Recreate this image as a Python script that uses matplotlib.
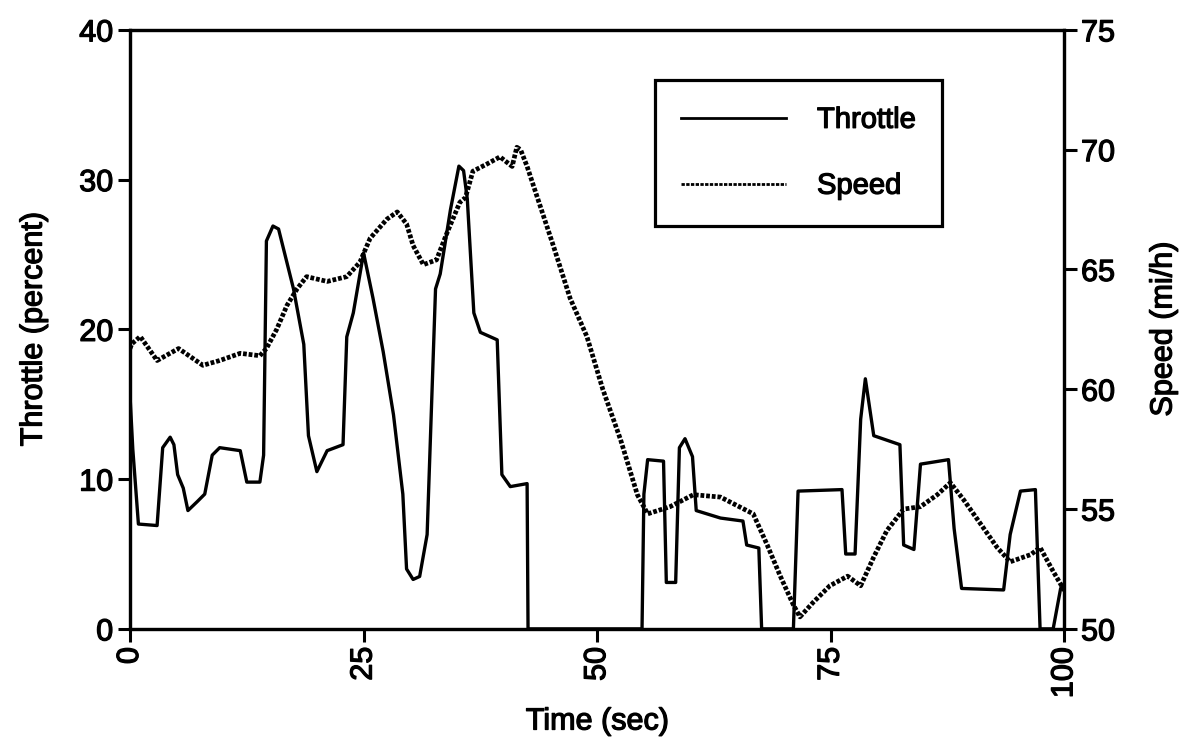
import matplotlib
matplotlib.use("Agg")
import matplotlib.pyplot as plt
import matplotlib.patheffects as pe
from matplotlib.lines import Line2D

plt.rcParams['font.family'] = ['Liberation Sans', 'DejaVu Sans']

# throttle trace (percent)
throttle_t = [0, 0.3, 0.9, 2.9, 3.5, 4.3, 4.7, 5.1, 5.7, 6.2, 7.2, 8.0, 8.8, 9.6, 11.8, 12.5,
              13.9, 14.3, 14.6, 15.3, 15.9, 17.5, 18.6, 19.1, 20.0, 21.1, 22.8, 23.2, 23.9,
              25.0, 26.0, 27.1, 28.2, 29.2, 29.6, 30.3, 31.0, 31.8, 32.7, 33.2, 34.3, 35.2,
              35.7, 36.1, 36.8, 37.5, 39.3, 39.8, 40.7, 42.5, 42.6, 54.8, 55.0, 55.4, 57.1,
              57.4, 58.4, 58.8, 59.4, 60.2, 60.6, 63.2, 65.6, 66.0, 67.3, 67.6, 71.0, 71.5,
              76.2, 76.6, 77.6, 78.2, 78.7, 79.6, 82.4, 82.8, 83.9, 84.6, 87.6, 88.2, 89.0,
              93.5, 94.2, 95.3, 96.9, 97.4, 98.8, 99.6, 100]
throttle = [15.6, 12.0, 7.0, 6.9, 12.1, 12.8, 12.3, 10.3, 9.4, 7.9, 8.5, 9.0, 11.6, 12.1, 11.9, 9.8,
            9.8, 11.6, 25.9, 26.9, 26.7, 22.7, 19.0, 12.9, 10.5, 11.9, 12.3, 19.5, 21.1,
            25.1, 22.1, 18.5, 14.3, 9.0, 4.0, 3.3, 3.5, 6.3, 22.7, 23.7, 28.0, 30.9,
            30.6, 28.7, 21.1, 19.8, 19.3, 10.3, 9.5, 9.7, 0, 0, 9.0, 11.3, 11.2,
            3.1, 3.1, 12.1, 12.7, 11.5, 7.9, 7.4, 7.2, 5.6, 5.4, 0, 0, 9.2,
            9.3, 5.0, 5.0, 14.0, 16.7, 12.9, 12.3, 5.6, 5.3, 11.0, 11.3, 6.7, 2.7,
            2.6, 6.3, 9.2, 9.3, 0, 0, 2.7, 3.0]

# vehicle speed trace (mi/h)
speed_t = [0, 0.2, 1.1, 2.9, 5.2, 7.8, 9.6, 11.8, 13.9, 14.6, 15.7, 16.8, 17.9, 18.9, 21.1,
           23.2, 24.6, 25.7, 27.5, 28.6, 29.6, 30.3, 31.4, 32.8, 33.9, 35.3, 35.9, 36.7,
           38.2, 39.6, 40.9, 41.4, 41.8, 42.5, 43.6, 45.3, 47.1, 48.9, 50.6, 52.5, 54.3,
           55.4, 57.8, 60.3, 63.2, 66.7, 68.2, 69.6, 71.0, 71.7, 73.1, 74.9, 76.8, 78.2,
           79.6, 81.0, 82.8, 84.6, 86.4, 87.8, 89.2, 91.0, 92.8, 94.2, 96.4, 97.4, 98.8, 100]
speed = [61.7, 61.9, 62.2, 61.2, 61.7, 61.0, 61.2, 61.5, 61.4, 61.7, 62.5, 63.5, 64.2, 64.7, 64.5,
         64.7, 65.3, 66.3, 67.1, 67.4, 66.9, 66.0, 65.2, 65.4, 66.5, 67.8, 68.0, 69.1,
         69.4, 69.7, 69.3, 70.1, 70.0, 69.3, 68.0, 66.0, 63.8, 62.2, 60.0, 57.9, 55.6,
         54.8, 55.1, 55.6, 55.5, 54.8, 53.5, 52.2, 51.0, 50.5, 51.1, 51.8, 52.2, 51.8,
         53.0, 54.1, 55.0, 55.1, 55.6, 56.1, 55.4, 54.4, 53.4, 52.8, 53.1, 53.4, 52.4, 51.6]

heavy = [pe.withStroke(linewidth=0.9, foreground='black')]

fig = plt.figure(figsize=(11.85, 7.46), dpi=100)
ax = fig.add_axes([0.1097, 0.157, 0.7885, 0.803])
ax2 = ax.twinx()

ax.plot(throttle_t, throttle, color='black', lw=2.4, zorder=3)
ax2.plot(speed_t, speed, color='black', lw=3.4, linestyle=(0, (0.8, 0.4)))

ax.set_xlim(0, 100)
ax.set_ylim(0, 40)
ax2.set_ylim(50, 75)
ax.set_xticks([0, 25, 50, 75, 100])
ax.set_yticks([0, 10, 20, 30, 40])
ax2.set_yticks([50, 55, 60, 65, 70, 75])

for a in (ax, ax2):
    for s in a.spines.values():
        s.set_linewidth(2.3)
    a.tick_params(direction='out', length=9, width=2.2, labelsize=22, pad=3)
ax.tick_params(axis='x', labelrotation=90, pad=4)

ax.set_xlabel('Time (sec)', fontsize=22, labelpad=6)
ax.set_ylabel('Throttle (percent)', fontsize=22, labelpad=22)
ax2.set_ylabel('Speed (mi/h)', fontsize=22, labelpad=24)

handles = [Line2D([], [], color='black', lw=2.0),
           Line2D([], [], color='black', lw=2.0, linestyle=(0, (1.2, 0.5)))]
leg = ax2.legend(handles, ['Throttle', 'Speed'], loc='upper left',
                 bbox_to_anchor=(0.562, 0.917), fontsize=21, frameon=True,
                 fancybox=False, edgecolor='black', framealpha=1,
                 handlelength=3.6, handletextpad=1.05, labelspacing=1.3,
                 borderpad=0.9, borderaxespad=0)
leg.get_frame().set_linewidth(2.3)

texts = (ax.get_xticklabels() + ax.get_yticklabels() + ax2.get_yticklabels()
         + [ax.xaxis.label, ax.yaxis.label, ax2.yaxis.label] + leg.get_texts())
for t in texts:
    t.set_path_effects(heavy)

fig.savefig('out.png', dpi=100)
